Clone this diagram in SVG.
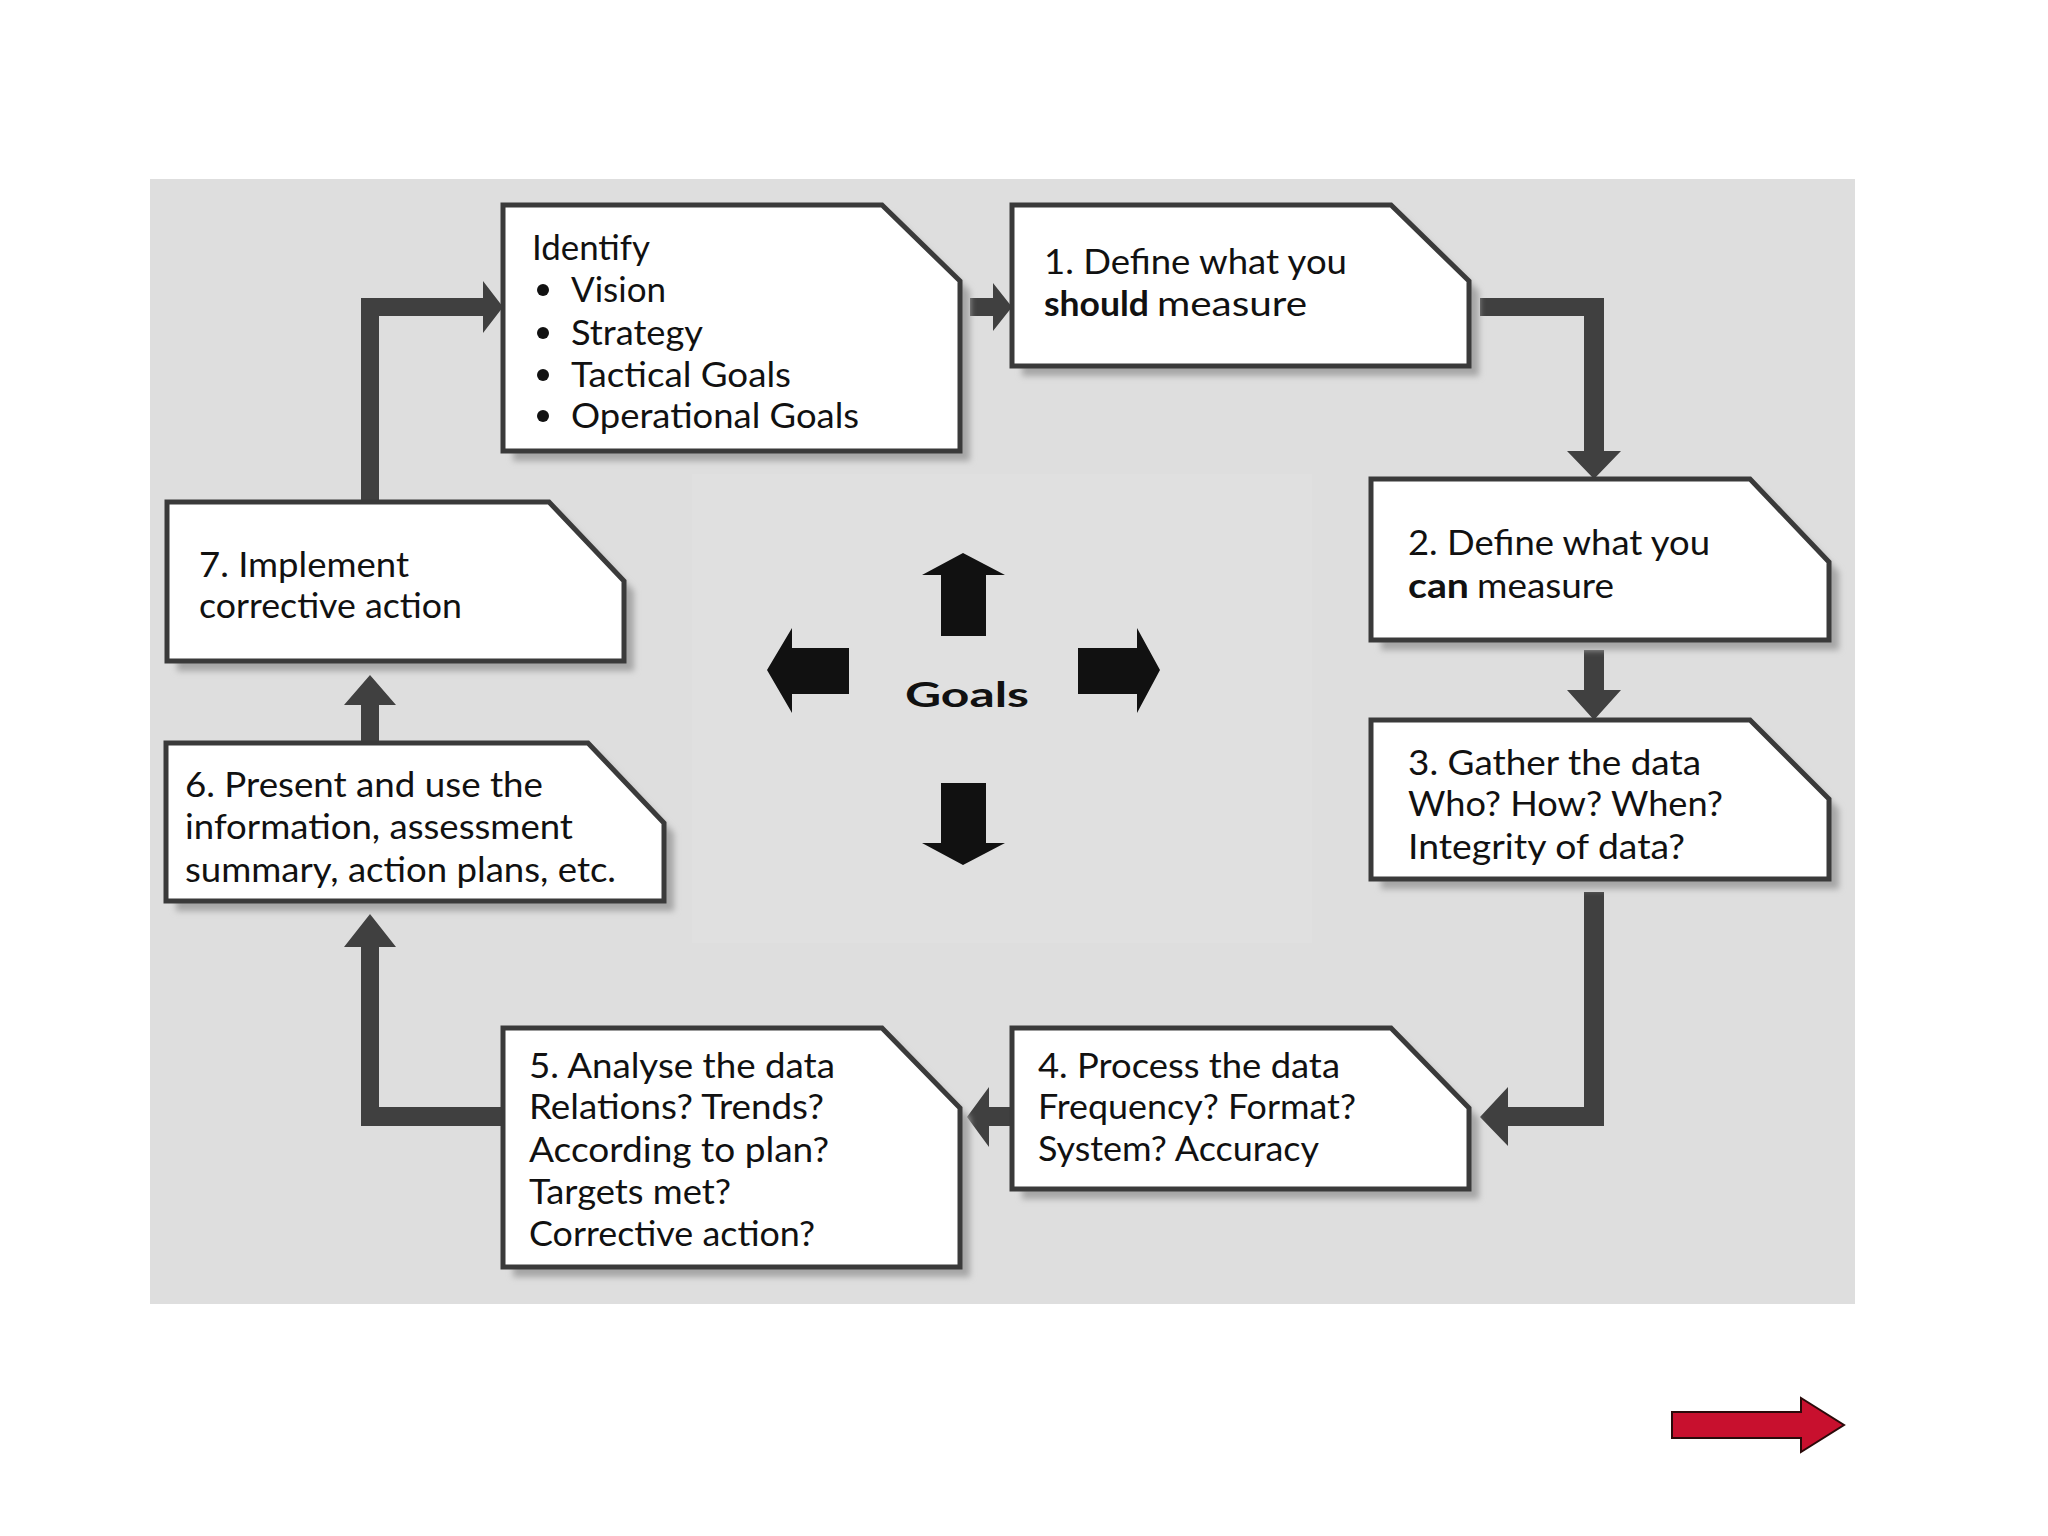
<svg xmlns="http://www.w3.org/2000/svg" width="2048" height="1536" viewBox="0 0 2048 1536">
<defs>
<filter id="blur" x="-5%" y="-5%" width="110%" height="110%"><feGaussianBlur stdDeviation="3"/></filter>
<style>
.box{fill:#ffffff;stroke:#3a3a3a;stroke-width:5;stroke-linejoin:miter}
.shadow{fill:#a6a6a6;filter:url(#blur)}
.t{font-family:Lato,"Liberation Sans",sans-serif;font-size:34px;fill:#111}
.b{font-weight:bold}
.conn{fill:#404040}
.goal{fill:#111}
</style>
</defs>
<rect x="0" y="0" width="2048" height="1536" fill="#ffffff"/>
<rect x="150" y="179" width="1705" height="1125" fill="#dedede"/>
<rect x="692" y="474" width="620" height="469" fill="#e0e0e0"/>

<g id="connectors">
  <!-- 7 -> Identify -->
  <path class="conn" d="M361,502 V298 H483 V281 L503,307 L483,333 V316 H379 V502 Z"/>
  <!-- Identify -> 1 -->
  <path class="conn" d="M970,298 H993 V283 L1012,307 L993,331 V316 H970 Z"/>
  <!-- 1 -> 2 -->
  <path class="conn" d="M1480,298 H1604 V451 H1621 L1594,479 L1567,451 H1584 V316 H1480 Z"/>
  <!-- 2 -> 3 -->
  <path class="conn" d="M1584,650 H1604 V690 H1621 L1594,720 L1567,690 H1584 Z"/>
  <!-- 3 -> 4 -->
  <path class="conn" d="M1584,892 H1604 V1126 H1508 V1146 L1480,1117 L1508,1087 V1107 H1584 Z"/>
  <!-- 4 -> 5 -->
  <path class="conn" d="M1012,1107 V1126 H989 V1147 L967,1117 L989,1087 V1107 Z"/>
  <!-- 5 -> 6 -->
  <path class="conn" d="M503,1107 V1126 H361 V947 H344 L370,914 L396,947 H379 V1107 Z"/>
  <!-- 6 -> 7 -->
  <path class="conn" d="M361,743 V705 H344 L370,675 L396,705 H379 V743 Z"/>
</g>

<g id="goals">
  <path class="goal" d="M941,636 V575 H922 L963,553 L1005,575 H986 V636 Z"/>
  <path class="goal" d="M941,783 H986 V843 H1005 L963,865 L922,843 H941 Z"/>
  <path class="goal" d="M849,648 V694 H792 V713 L767,670 L792,628 V648 Z"/>
  <path class="goal" d="M1078,648 H1137 V628 L1160,670 L1137,713 V694 H1078 Z"/>
  <text class="t b" x="905" y="707" font-size="49" textLength="124" lengthAdjust="spacingAndGlyphs">Goals</text>
</g>

<g id="node-identify">
  <polygon class="shadow" points="513,215 892,215 970,291 970,461 513,461"/>
  <polygon class="box" points="503,205 882,205 960,281 960,451 503,451"/>
  <text class="t" x="532" y="260" textLength="118" lengthAdjust="spacingAndGlyphs">Identify</text>
  <circle cx="543" cy="290" r="6" fill="#111"/>
  <circle cx="543" cy="333" r="6" fill="#111"/>
  <circle cx="543" cy="375" r="6" fill="#111"/>
  <circle cx="543" cy="416" r="6" fill="#111"/>
  <text class="t" x="571" y="302" textLength="95" lengthAdjust="spacingAndGlyphs">Vision</text>
  <text class="t" x="571" y="345" textLength="132" lengthAdjust="spacingAndGlyphs">Strategy</text>
  <text class="t" x="571" y="387" textLength="220" lengthAdjust="spacingAndGlyphs">Tactical Goals</text>
  <text class="t" x="571" y="428" textLength="288" lengthAdjust="spacingAndGlyphs">Operational Goals</text>
</g>

<g id="node-1">
  <polygon class="shadow" points="1022,215 1401,215 1479,291 1479,376 1022,376"/>
  <polygon class="box" points="1012,205 1391,205 1469,281 1469,366 1012,366"/>
  <text class="t" x="1044" y="274" textLength="303" lengthAdjust="spacingAndGlyphs">1. Define what you</text>
  <text class="t b" x="1044" y="316" textLength="105" lengthAdjust="spacingAndGlyphs">should</text>
  <text class="t" x="1157" y="316" textLength="150" lengthAdjust="spacingAndGlyphs">measure</text>
</g>

<g id="node-2">
  <polygon class="shadow" points="1381,489 1760,489 1839,572 1839,650 1381,650"/>
  <polygon class="box" points="1371,479 1750,479 1829,562 1829,640 1371,640"/>
  <text class="t" x="1408" y="555" textLength="302" lengthAdjust="spacingAndGlyphs">2. Define what you</text>
  <text class="t b" x="1408" y="598" textLength="61" lengthAdjust="spacingAndGlyphs">can</text>
  <text class="t" x="1477" y="598" textLength="137" lengthAdjust="spacingAndGlyphs">measure</text>
</g>

<g id="node-3">
  <polygon class="shadow" points="1381,730 1760,730 1839,809 1839,889 1381,889"/>
  <polygon class="box" points="1371,720 1750,720 1829,799 1829,879 1371,879"/>
  <text class="t" x="1408" y="775" textLength="293" lengthAdjust="spacingAndGlyphs">3. Gather the data</text>
  <text class="t" x="1408" y="816" textLength="315" lengthAdjust="spacingAndGlyphs">Who? How? When?</text>
  <text class="t" x="1408" y="859" textLength="277" lengthAdjust="spacingAndGlyphs">Integrity of data?</text>
</g>

<g id="node-4">
  <polygon class="shadow" points="1022,1038 1401,1038 1479,1118 1479,1199 1022,1199"/>
  <polygon class="box" points="1012,1028 1391,1028 1469,1108 1469,1189 1012,1189"/>
  <text class="t" x="1038" y="1078" textLength="302" lengthAdjust="spacingAndGlyphs">4. Process the data</text>
  <text class="t" x="1038" y="1119" textLength="318" lengthAdjust="spacingAndGlyphs">Frequency? Format?</text>
  <text class="t" x="1038" y="1161" textLength="281" lengthAdjust="spacingAndGlyphs">System? Accuracy</text>
</g>

<g id="node-5">
  <polygon class="shadow" points="513,1038 892,1038 970,1118 970,1277 513,1277"/>
  <polygon class="box" points="503,1028 882,1028 960,1108 960,1267 503,1267"/>
  <text class="t" x="529" y="1078" textLength="306" lengthAdjust="spacingAndGlyphs">5. Analyse the data</text>
  <text class="t" x="529" y="1119" textLength="295" lengthAdjust="spacingAndGlyphs">Relations? Trends?</text>
  <text class="t" x="529" y="1162" textLength="300" lengthAdjust="spacingAndGlyphs">According to plan?</text>
  <text class="t" x="529" y="1204" textLength="202" lengthAdjust="spacingAndGlyphs">Targets met?</text>
  <text class="t" x="529" y="1246" textLength="286" lengthAdjust="spacingAndGlyphs">Corrective action?</text>
</g>

<g id="node-6">
  <polygon class="shadow" points="176,753 598,753 674,833 674,911 176,911"/>
  <polygon class="box" points="166,743 588,743 664,823 664,901 166,901"/>
  <text class="t" x="185" y="797" textLength="358" lengthAdjust="spacingAndGlyphs">6. Present and use the</text>
  <text class="t" x="185" y="839" textLength="388" lengthAdjust="spacingAndGlyphs">information, assessment</text>
  <text class="t" x="185" y="882" textLength="431" lengthAdjust="spacingAndGlyphs">summary, action plans, etc.</text>
</g>

<g id="node-7">
  <polygon class="shadow" points="177,512 559,512 634,591 634,671 177,671"/>
  <polygon class="box" points="167,502 549,502 624,581 624,661 167,661"/>
  <text class="t" x="199" y="577" textLength="210" lengthAdjust="spacingAndGlyphs">7. Implement</text>
  <text class="t" x="199" y="618" textLength="263" lengthAdjust="spacingAndGlyphs">corrective action</text>
</g>

<g id="next-arrow">
  <path d="M1672,1412 H1801 V1398 L1844,1425 L1801,1452 V1438 H1672 Z" fill="#c8102e" stroke="#2a0a0a" stroke-width="2"/>
</g>
</svg>
